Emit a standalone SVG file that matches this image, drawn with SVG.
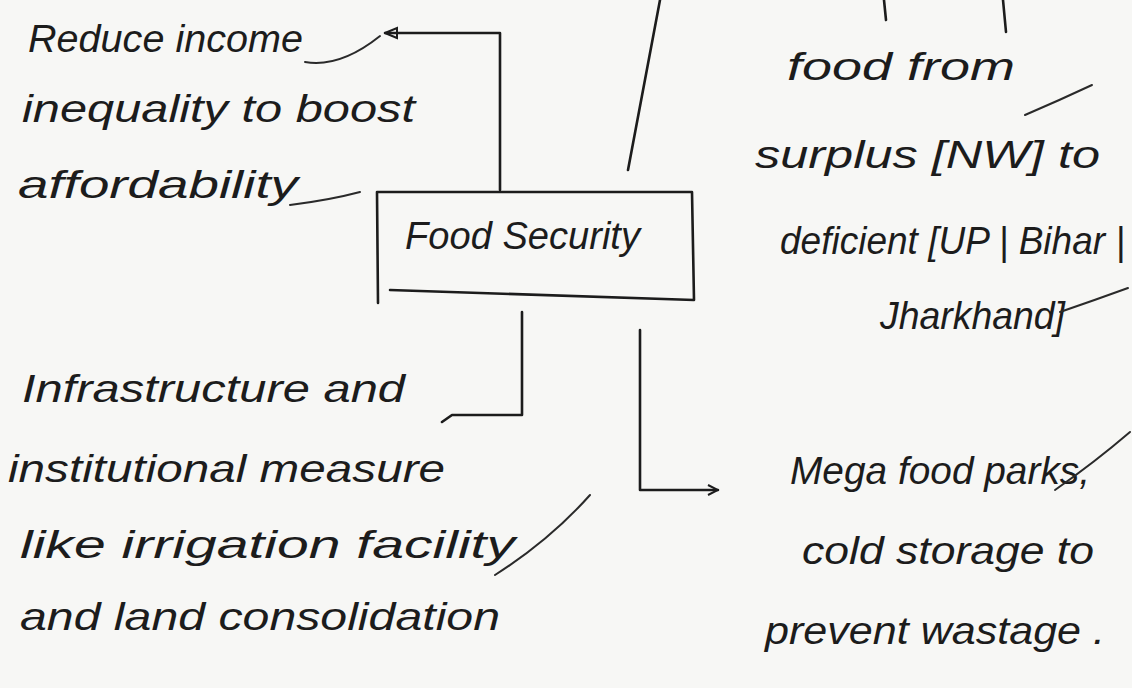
<svg xmlns="http://www.w3.org/2000/svg" width="1132" height="688" viewBox="0 0 1132 688">
<style>
.t{font-family:"Liberation Sans","DejaVu Sans",sans-serif;font-size:38px;fill:#1c1c1c;font-style:italic}
.ln{fill:none;stroke:#1c1c1c;stroke-width:2.6;stroke-linecap:round;stroke-linejoin:round}
.tk{fill:none;stroke:#2a2a2a;stroke-width:2;stroke-linecap:round}
</style>
<defs>
<marker id="ah" viewBox="0 0 12 12" refX="11" refY="6" markerWidth="12" markerHeight="12" markerUnits="userSpaceOnUse" orient="auto">
<path d="M1,1 L11,6 L1,11" fill="none" stroke="#1c1c1c" stroke-width="2"/>
</marker>
<marker id="tri" viewBox="0 0 14 14" refX="13" refY="7" markerWidth="14" markerHeight="14" markerUnits="userSpaceOnUse" orient="auto">
<path d="M1,2 L13,7 L1,12 Z" fill="none" stroke="#1c1c1c" stroke-width="2"/>
</marker>
</defs>
<rect width="1132" height="688" fill="#f7f7f5"/>
<g id="connectors">
<path class="ln" d="M500,190 L500,33 L385,33" marker-end="url(#tri)"/>
<path class="ln" d="M522,312 L522,415 L452,415 L442,422" />
<path class="ln" d="M640,330 L640,490 L718,490" marker-end="url(#ah)"/>
<path class="ln" d="M660,0 L628,170"/>
<path class="ln" d="M884,0 L886,20"/>
<path class="ln" d="M1003,0 L1006,32"/>
</g>
<g id="node-food-security">
<path class="ln" d="M377,192 L692,192 L694,300 L390,290 M377,192 L378,303"/>
<text class="t" x="405" y="249" textLength="235" lengthAdjust="spacingAndGlyphs">Food Security</text>
</g>
<g id="node-income">
<text class="t" x="28" y="52" textLength="275" lengthAdjust="spacingAndGlyphs">Reduce income</text>
<text class="t" x="22" y="122" textLength="393" lengthAdjust="spacingAndGlyphs">inequality to boost</text>
<text class="t" x="18" y="198" textLength="280" lengthAdjust="spacingAndGlyphs">affordability</text>
<path class="tk" d="M305,62 Q340,68 380,36"/>
<path class="tk" d="M290,205 Q330,200 360,192"/>
</g>
<g id="node-food-transfer">
<text class="t" x="787" y="80" textLength="228" lengthAdjust="spacingAndGlyphs">food from</text>
<text class="t" x="755" y="168" textLength="345" lengthAdjust="spacingAndGlyphs">surplus [NW] to</text>
<text class="t" x="780" y="254" textLength="345" lengthAdjust="spacingAndGlyphs">deficient [UP | Bihar |</text>
<text class="t" x="880" y="329" textLength="185" lengthAdjust="spacingAndGlyphs">Jharkhand]</text>
<path class="tk" d="M1025,115 Q1060,100 1092,85"/>
<path class="tk" d="M1060,312 Q1095,300 1128,288"/>
</g>
<g id="node-infrastructure">
<text class="t" x="22" y="402" textLength="383" lengthAdjust="spacingAndGlyphs">Infrastructure and</text>
<text class="t" x="8" y="482" textLength="437" lengthAdjust="spacingAndGlyphs">institutional measure</text>
<text class="t" x="20" y="558" textLength="495" lengthAdjust="spacingAndGlyphs">like irrigation facility</text>
<text class="t" x="20" y="630" textLength="480" lengthAdjust="spacingAndGlyphs">and land consolidation</text>
<path class="tk" d="M495,575 Q550,540 590,495"/>
</g>
<g id="node-mega">
<text class="t" x="790" y="484" textLength="300" lengthAdjust="spacingAndGlyphs">Mega food parks,</text>
<text class="t" x="802" y="564" textLength="292" lengthAdjust="spacingAndGlyphs">cold storage to</text>
<text class="t" x="765" y="644" textLength="340" lengthAdjust="spacingAndGlyphs">prevent wastage .</text>
<path class="tk" d="M1055,490 Q1095,462 1130,432"/>
</g>
</svg>
